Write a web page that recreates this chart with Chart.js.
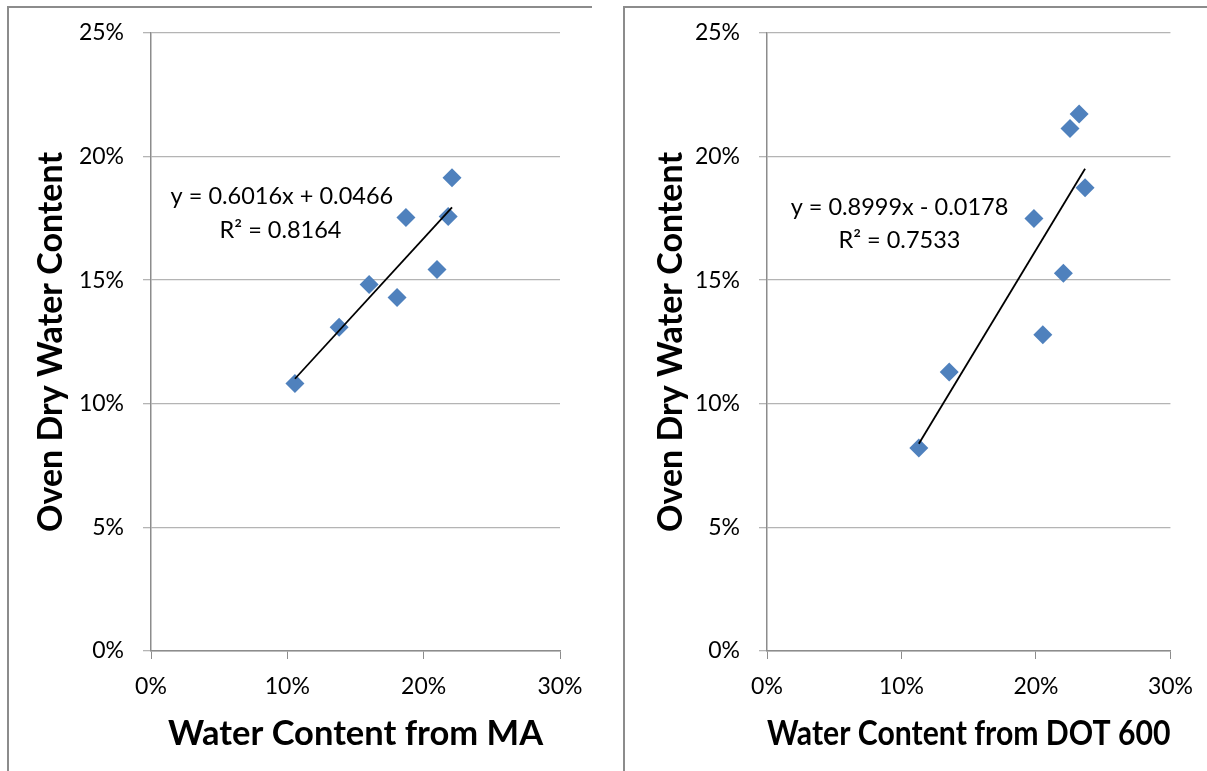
<!DOCTYPE html>
<html><head><meta charset="utf-8">
<script src="https://cdn.jsdelivr.net/npm/chart.js@4"></script>
<style>
body{margin:0;background:#fff;width:1207px;height:771px;overflow:hidden;position:relative}
.box{position:absolute;border-left:2px solid #8c8c8c;border-top:2px solid #8c8c8c}
canvas{position:absolute}
</style></head><body>
<div class="box" style="left:7px;top:6px;width:583px;height:780px"></div>
<div class="box" style="left:623px;top:6px;width:600px;height:780px"></div>
<canvas id="c1" width="590" height="771" style="left:10px;top:0px"></canvas>
<canvas id="c2" width="581" height="771" style="left:626px;top:0px"></canvas>
<script>
// ---- data ----
const maX   = [0.1056, 0.1380, 0.1600, 0.1805, 0.1870, 0.2098, 0.2180, 0.2208];
const maY   = [0.1082, 0.1309, 0.1482, 0.1430, 0.1753, 0.1543, 0.1757, 0.1914];
const dotX  = [0.2321, 0.2253, 0.2365, 0.1985, 0.2204, 0.2051, 0.1355, 0.1129];
const dotY  = [0.2172, 0.2113, 0.1873, 0.1749, 0.1528, 0.1279, 0.1128, 0.0821];
const maTrendX  = [0.1056, 0.2208];
const maTrendY  = [0.1101, 0.1794];
const dotTrendX = [0.1129, 0.2365];
const dotTrendY = [0.0838, 0.1950];
const maEq  = ["y = 0.6016x + 0.0466", "R\u00B2 = 0.8164"];
const dotEq = ["y = 0.8999x - 0.0178", "R\u00B2 = 0.7533"];
const xTicks = [0, 0.1, 0.2, 0.3];
const yTicks = [0, 0.05, 0.10, 0.15, 0.20, 0.25];
const titleMA  = "Water Content from MA";
const titleDOT = "Water Content from DOT 600";
const titleY   = "Oven Dry Water Content";

const FONT = "Lato, 'Open Sans', sans-serif";
const pct = v => Math.round(v * 100) + '%';
const pts = (xs, ys) => xs.map((x, i) => ({x, y: ys[i]}));

const eqLabels = {
  id: 'eqLabels',
  afterDatasetsDraw(chart, args, opts) {
    const {ctx, scales: {x, y}} = chart;
    ctx.save();
    ctx.font = opts.font;
    ctx.fillStyle = '#000';
    ctx.textAlign = 'center';
    ctx.textBaseline = 'middle';
    opts.items.forEach(it => ctx.fillText(it.text, x.getPixelForValue(it.x), y.getPixelForValue(it.y)));
    ctx.restore();
  }
};

function makeChart(id, xs, ys, tx, ty, xTitle, yTitlePad, eq, eqPos, rightPad) {
  new Chart(document.getElementById(id), {
    type: 'scatter',
    data: {
      datasets: [
        {data: pts(tx, ty), showLine: true, borderColor: '#000', borderWidth: 1.8,
         pointRadius: 0, fill: false, order: 0},
        {data: pts(xs, ys), pointStyle: 'rectRot', pointRadius: 9.5, pointHoverRadius: 9.5,
         backgroundColor: '#4F81BD', borderWidth: 0, order: 1}
      ]
    },
    options: {
      responsive: false, animation: false, devicePixelRatio: 1,
      layout: {padding: {top: 32, right: rightPad, left: 0, bottom: 0}},
      plugins: {
        legend: {display: false}, tooltip: {enabled: false},
        eqLabels: {font: "23.5px " + FONT, items: [
          {text: eq[0], x: eqPos[0], y: eqPos[1]},
          {text: eq[1], x: eqPos[2], y: eqPos[3]}
        ]}
      },
      scales: {
        x: {
          type: 'linear', min: 0, max: 0.3,
          afterBuildTicks: s => { s.ticks = xTicks.map(v => ({value: v})); },
          afterFit: s => { s.height = 120; },
          grid: {drawOnChartArea: false, drawTicks: true, tickLength: 8, color: '#8c8c8c', lineWidth: 1},
          border: {color: '#8c8c8c', width: 1.5},
          ticks: {callback: pct, font: {family: FONT, size: 23}, color: '#000', padding: 14, maxRotation: 0},
          title: {display: true, text: xTitle, color: '#000', font: {family: FONT, size: 34.5, weight: 'bold'},
                  padding: {top: 0, bottom: 16}}
        },
        y: {
          type: 'linear', min: 0, max: 0.25,
          afterBuildTicks: s => { s.ticks = yTicks.map(v => ({value: v})); },
          afterFit: s => { s.width = 141; },
          grid: {drawTicks: true, tickLength: 8, color: '#b4b4b4', lineWidth: 1.3},
          border: {color: '#8c8c8c', width: 1.5},
          ticks: {callback: pct, font: {family: FONT, size: 23}, color: '#000', padding: 19},
          title: {display: true, text: titleY, color: '#000', font: {family: FONT, size: 34, weight: 'bold'},
                  padding: {top: yTitlePad, bottom: 0}}
        }
      }
    },
    plugins: [eqLabels]
  });
}

makeChart('c1', maX, maY, maTrendX, maTrendY, titleMA, 21, maEq, [0.096, 0.184, 0.095, 0.170], 40);
makeChart('c2', dotX, dotY, dotTrendX, dotTrendY, titleDOT, 25, dotEq, [0.0985, 0.1793, 0.0985, 0.166], 29);
</script>
</body></html>
